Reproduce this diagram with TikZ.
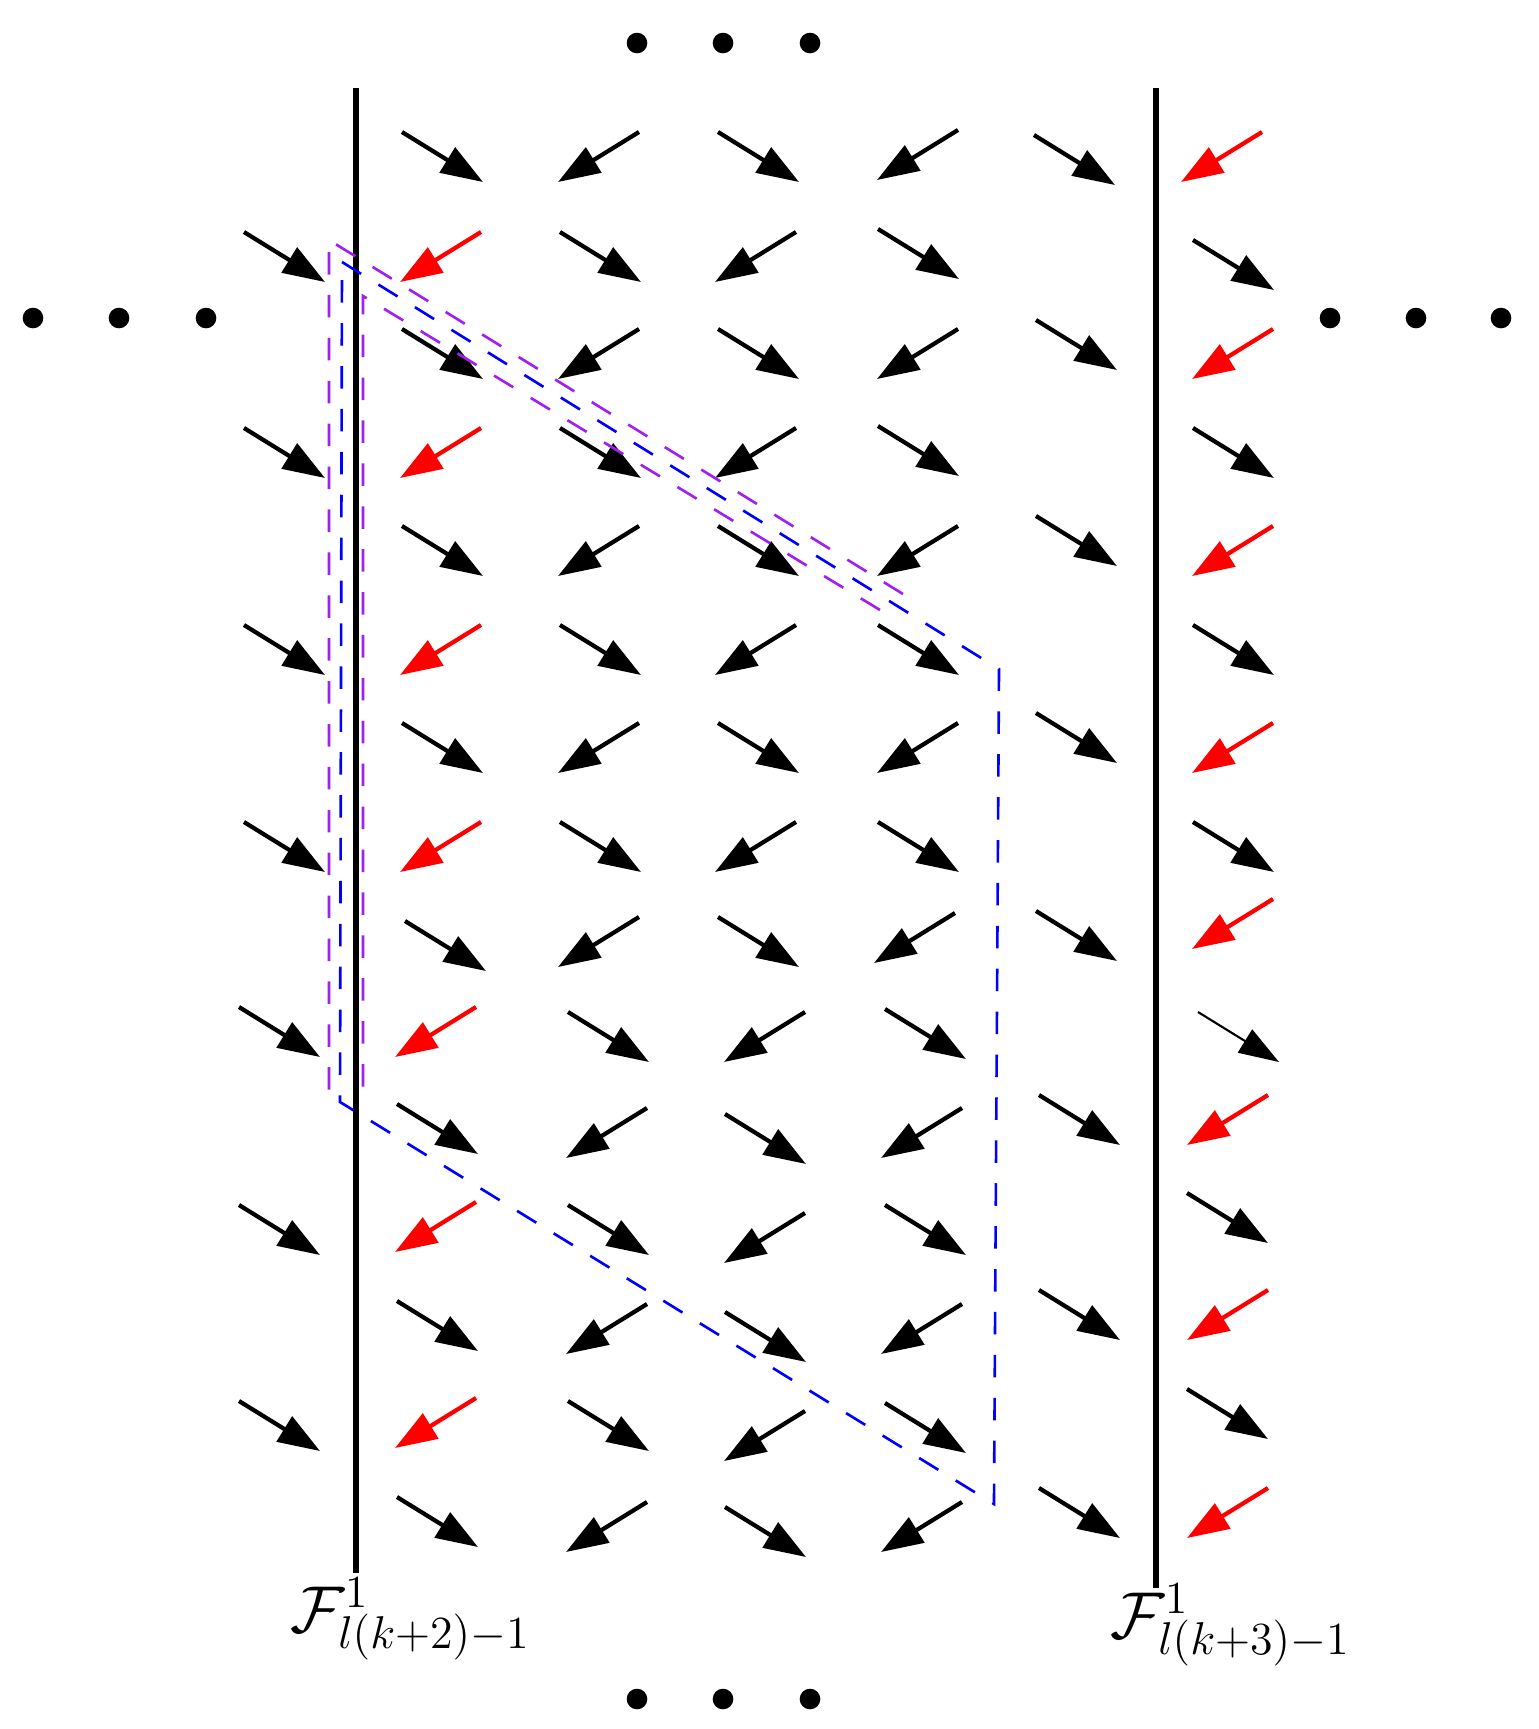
\documentclass[tikz,border=0pt]{standalone}
\usepackage{graphicx}
\usetikzlibrary{arrows.meta}
\definecolor{myblue}{RGB}{0,0,255}
\definecolor{mypurple}{RGB}{160,32,240}
\definecolor{myred}{RGB}{255,0,0}
\begin{document}
\begin{tikzpicture}[x=0.01cm,y=-0.01cm,
  vec/.style={line width=1.2pt,-{Triangle[length=4.2mm,width=2.9mm]}},
  thinvec/.style={line width=0.6pt,-{Triangle[length=4.0mm,width=2.7mm]}},
  redvec/.style={vec,myred,draw=myred,fill=myred},
  wall/.style={line width=1.7pt},
  bluedash/.style={myblue,line width=0.75pt,dash pattern=on 6.4pt off 5.8pt},
  purpdash/.style={mypurple,line width=0.75pt,dash pattern=on 6.4pt off 5.8pt},
  dotmark/.style={fill=black},
  lab/.style={anchor=base west,inner sep=0pt,font=\LARGE}]
\useasboundingbox (0,0) rectangle (1538,1729);

% walls
\coordinate (Ltop) at (356,88);
\coordinate (Lbot) at (356,1573);
\coordinate (Rtop) at (1156,88);
\coordinate (Rbot) at (1156,1588);
\draw[wall] (Ltop) -- (Lbot);
\draw[wall] (Rtop) -- (Rbot);

% black arrows pointing south-east
\foreach \x/\y in {
  402/132, 718/132, 1034/135,
  244/232, 560/232, 878/229, 1193/240,
  402/329, 718/329, 1036/320,
  244/428, 560/428, 878/426, 1193/428,
  402/526, 718/526, 1036/516,
  244/625, 560/625, 878/625, 1193/625,
  402/723, 718/723, 1036/713,
  244/822, 560/822, 878/822, 1193/822,
  405/921, 718/917, 1036/911,
  239/1007, 568/1012, 885/1009,
  397/1104, 725/1114, 1039/1095,
  239/1205, 568/1205, 885/1205, 1187/1193,
  397/1301, 725/1312, 1039/1290,
  239/1401, 568/1401, 885/1403, 1187/1389,
  397/1497, 725/1507, 1039/1488}
  \draw[vec] (\x,\y) -- ++(81,50);
\draw[thinvec] (1198,1012) -- ++(81,50);

% black arrows pointing south-west
\foreach \x/\y in {
  639/132, 958/130,
  796/232,
  639/329, 958/329,
  796/428,
  639/526, 958/526,
  796/625,
  639/723, 958/723,
  796/822,
  639/917, 955/913,
  805/1012,
  647/1108, 962/1108,
  805/1213,
  647/1304, 962/1304,
  805/1411,
  647/1502, 962/1502}
  \draw[vec] (\x,\y) -- ++(-81,50);

% red arrows pointing south-west
\foreach \x/\y in {
  1262/132, 481/232, 1273/329, 481/428, 1273/526, 481/625,
  1273/723, 481/822, 1273/899, 476/1007, 1268/1095, 476/1202,
  1268/1290, 476/1398, 1268/1488}
  \draw[redvec] (\x,\y) -- ++(-81,50);

% dashed outlines
\draw[bluedash] (342,262) -- (999,669) -- (994,1504) -- (340,1102) -- cycle;
\draw[purpdash] (903,594) -- (329,240) -- (329,1097);
\draw[purpdash] (880,610) -- (363,296) -- (363,1093);

% ellipsis dots
\foreach \x/\y in {637/43, 723/43, 810/43, 637/1699, 723/1699, 810/1699,
  33/318, 119/318, 206/318, 1330/318, 1416/318, 1501/318}
  \fill[dotmark] (\x,\y) circle[radius=1.03mm];

% labels
\node[lab] (labL) at (290,1632) {\scalebox{1.09}{$\mathcal{F}^{1}_{l(k+2)-1}$}};
\node[lab] (labR) at (1110,1638) {\scalebox{1.09}{$\mathcal{F}^{1}_{l(k+3)-1}$}};
\end{tikzpicture}
\end{document}
